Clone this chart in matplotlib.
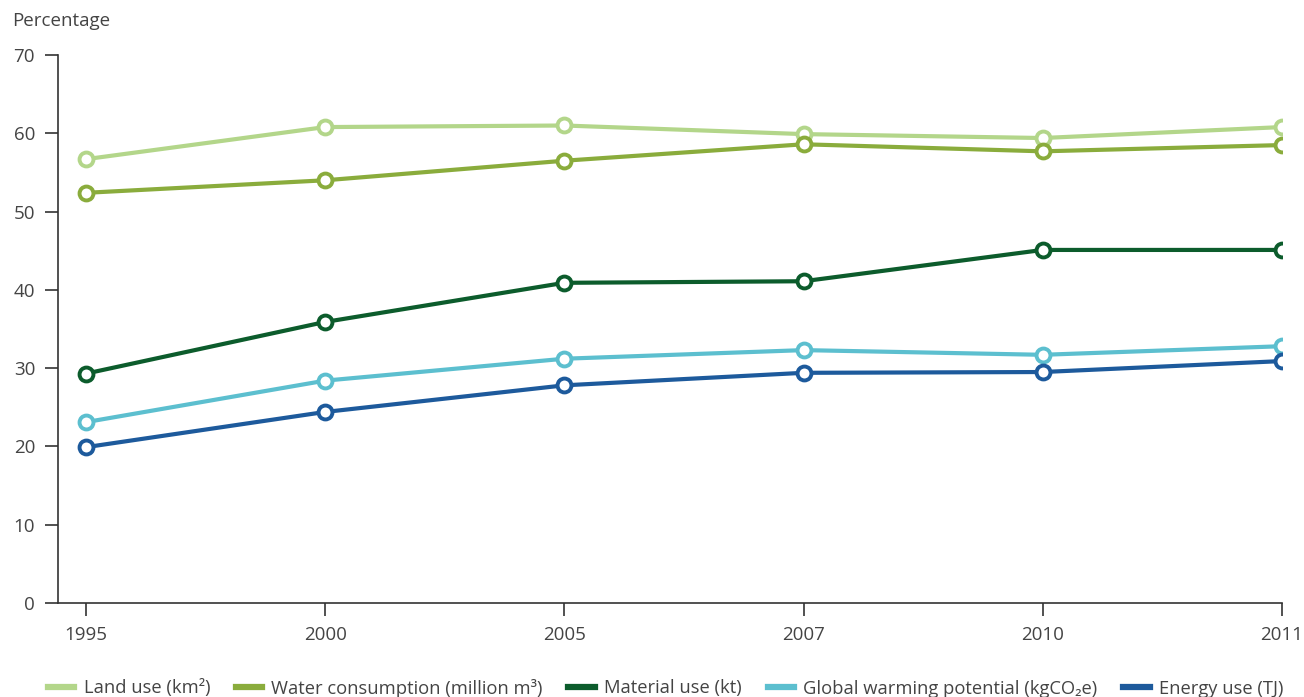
import matplotlib.pyplot as plt
from matplotlib.lines import Line2D

plt.rcParams['font.family'] = ['Open Sans', 'DejaVu Sans']

years = ["1995", "2000", "2005", "2007", "2010", "2011"]

land_use = [56.7, 60.8, 61.0, 59.9, 59.4, 60.8]
water = [52.4, 54.0, 56.5, 58.6, 57.7, 58.5]
material = [29.3, 35.9, 40.9, 41.1, 45.1, 45.1]
gwp = [23.1, 28.4, 31.2, 32.3, 31.7, 32.8]
energy = [19.9, 24.4, 27.8, 29.4, 29.5, 30.9]

labels = ["Land use (km²)", "Water consumption (million m³)", "Material use (kt)",
          "Global warming potential (kgCO₂e)", "Energy use (TJ)"]
colors = ["#b3d68a", "#8aac3c", "#0c5c2c", "#5cbfcf", "#1d5a9c"]
series = [land_use, water, material, gwp, energy]

fig = plt.figure(figsize=(13.04, 6.97), dpi=100)
ax = fig.add_axes([0.0445, 0.135, 0.9385, 0.786])

x = list(range(len(years)))
for vals, c in zip(series, colors):
    ax.plot(x, vals, color=c, lw=3, marker="o", markersize=10,
            markerfacecolor="white", markeredgecolor=c, markeredgewidth=2.8,
            solid_capstyle="round", zorder=3)

ax.set_xlim(-0.117, 5)
ax.set_ylim(0, 70)
ax.set_yticks(range(0, 71, 10))
ax.set_xticks(x)
ax.set_xticklabels(years)

for s in ["top", "right"]:
    ax.spines[s].set_visible(False)
for s in ["left", "bottom"]:
    ax.spines[s].set_color("#333333")
    ax.spines[s].set_linewidth(1.2)
ax.tick_params(axis="both", direction="out", length=9.5, width=1.2, color="#333333",
               labelsize=13.5, labelcolor="#444444", pad=7)

fig.text(12 / 1304, 1 - 21 / 697, "Percentage", fontsize=13.5, color="#444444",
         va="center", ha="left")

handles = [Line2D([0], [0], color=c, lw=4.5) for c in colors]
fig.legend(handles, labels, loc="center left", bbox_to_anchor=(0.031, 1 - 688 / 697),
           ncol=5, frameon=False, fontsize=13.2, handlelength=1.45, handletextpad=0.5,
           columnspacing=1.4, labelcolor="#444444", borderaxespad=0)

fig.savefig("out.png", dpi=100)
